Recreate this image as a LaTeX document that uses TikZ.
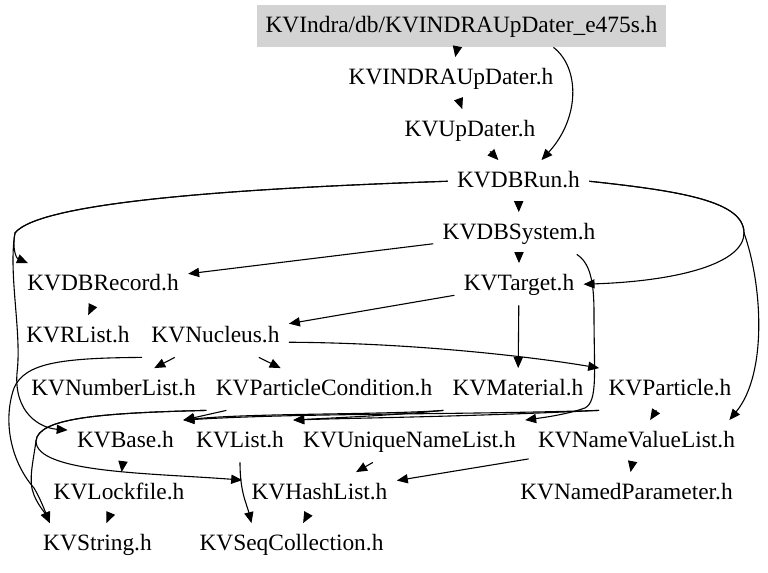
\documentclass[tikz,border=0pt]{standalone}
\usepackage{fontspec}
\setmainfont{Liberation Serif}
\usetikzlibrary{arrows.meta}
\definecolor{rootgray}{RGB}{211,211,211}

\begin{document}
\begin{tikzpicture}[x=0.5pt, y=0.5pt,
    file/.style={anchor=base, inner xsep=4.5pt, inner ysep=6pt,
      text height=7.75pt, text depth=1pt, font=\fontsize{11.7}{14}\selectfont},
    rootfile/.style={file, fill=rootgray},
    inc/.style={-{Triangle[length=5.5pt,width=4.6pt]}, line width=0.55pt}]
  \useasboundingbox (0,0) rectangle (768,573);

  \node[rootfile] (root)     at (461.5,540) {KVIndra/db/KVINDRAUpDater\_e475s.h};
  \node[file]     (upd)      at (451,488)   {KVINDRAUpDater.h};
  \node[file]     (upd2)     at (470,436)   {KVUpDater.h};
  \node[file]     (dbrun)    at (518.5,385) {KVDBRun.h};
  \node[file]     (dbsys)    at (519,333)   {KVDBSystem.h};
  \node[file]     (dbrec)    at (103,282)   {KVDBRecord.h};
  \node[file]     (target)   at (519,282)   {KVTarget.h};
  \node[file]     (rlist)    at (78,230)    {KVRList.h};
  \node[file]     (nucleus)  at (215.5,230) {KVNucleus.h};
  \node[file]     (numlist)  at (113.5,177) {KVNumberList.h};
  \node[file]     (pcond)    at (324,177)   {KVParticleCondition.h};
  \node[file]     (material) at (518,177)   {KVMaterial.h};
  \node[file]     (particle) at (670,177)   {KVParticle.h};
  \node[file]     (base)     at (125.5,125) {KVBase.h};
  \node[file]     (list)     at (240,125)   {KVList.h};
  \node[file]     (uniq)     at (409.5,125) {KVUniqueNameList.h};
  \node[file]     (nvl)      at (636.5,125) {KVNameValueList.h};
  \node[file]     (lock)     at (119,73)    {KVLockfile.h};
  \node[file]     (hash)     at (319.5,73)  {KVHashList.h};
  \node[file]     (namedpar) at (626.5,73)  {KVNamedParameter.h};
  \node[file]     (string)   at (97.5,22)   {KVString.h};
  \node[file]     (seq)      at (291.5,22)  {KVSeqCollection.h};

  \coordinate (runleft)  at (15,340);
  \coordinate (runright) at (744,340);
  \coordinate (condleft) at (36,132);

  \draw[inc] (root) -- (upd);
  \draw[inc] ([xshift=46pt]root.south) .. controls (580,505) and (580,455) .. ([xshift=11.5pt]dbrun.north);
  \draw[inc] (upd) -- (upd2);
  \draw[inc] (upd2) -- (dbrun);
  \draw[inc] (dbrun) -- (dbsys);
  \draw[inc] (dbrun.west) .. controls (250,385) and (40,372) .. (runleft)
    .. controls (12,325) and (16,315) .. ([xshift=5pt]dbrec.north west);
  \draw[inc] (dbrun.west) .. controls (250,385) and (40,372) .. (runleft)
    .. controls (8,300) and (22,240) .. (17,200)
    .. controls (14,160) and (40,145) .. ([yshift=-5pt]base.north west);
  \draw[inc] (dbrun.east) .. controls (680,382) and (744,372) .. (runright)
    .. controls (744,310) and (680,292) .. (target.east);
  \draw[inc] (dbrun.east) .. controls (680,382) and (744,372) .. (runright)
    .. controls (762,290) and (768,200) .. ([xshift=-7.5pt]nvl.north east);

  \draw[inc] (dbsys) -- (target);
  \draw[inc] (dbsys) -- (dbrec);
  \draw[inc] ([xshift=-14pt]dbsys.south east) .. controls (590,310) and (594,292) .. (594,260)
    .. controls (594,200) and (598,172) .. (585,165)
    .. controls (565,158) and (540,155) .. (uniq.north east);

  \draw[inc] (dbrec) -- (rlist);
  \draw[inc] (target) -- (nucleus);
  \draw[inc] (target) -- (material);

  \draw[inc] (nucleus) -- (numlist);
  \draw[inc] (nucleus) -- (pcond);
  \draw[inc] ([yshift=-3pt]nucleus.east) .. controls (420,230) and (540,215) .. (particle.north west);
  \draw[inc] (nucleus.south west) .. controls (60,215) and (25,210) .. (14,185)
    .. controls (2,150) and (12,110) .. (34,85)
    .. controls (40,75) and (45,62) .. ([xshift=8pt]string.north west);

  \draw[inc] ([xshift=10pt]pcond.south west) -- (base.north east);
  \draw[inc] (pcond.south west) .. controls (100,160) and (38,155) .. (condleft)
    .. controls (36,100) and (150,100) .. ([yshift=-4pt]hash.north west);
  \draw[inc] (pcond.south west) .. controls (100,160) and (38,155) .. (condleft)
    .. controls (33,110) and (28,92) .. (34,78)
    .. controls (38,68) and (45,60) .. ([xshift=8pt]string.north west);

  \draw[inc] (material.south west) .. controls (380,158) and (250,160) .. (base.north east);
  \draw[inc] (material.south west) .. controls (400,158) and (330,155) .. (list.north east);
  \draw[inc] (particle.south west) .. controls (450,158) and (300,160) .. (base.north east);
  \draw[inc] (particle.south west) .. controls (460,156) and (350,155) .. (list.north east);
  \draw[inc] (particle) -- (nvl);

  \draw[inc] (base) -- (lock);
  \draw[inc] (lock) -- (string);
  \draw[inc] (list.south) .. controls +(0,-30) and +(-5,20) .. ([xshift=-20pt]seq.north);
  \draw[inc] (uniq) -- (hash);
  \draw[inc] (nvl) -- (hash);
  \draw[inc] (nvl) -- (namedpar);
  \draw[inc] (hash) -- (seq);
\end{tikzpicture}
\end{document}
